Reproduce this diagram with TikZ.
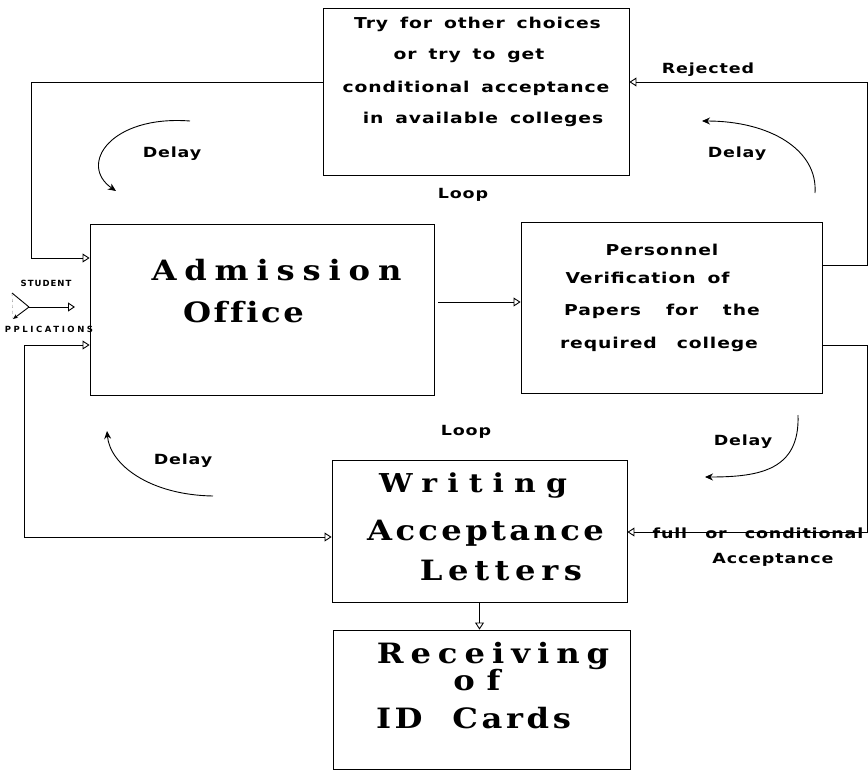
\documentclass[tikz,border=0pt]{standalone}
\usepackage{fontspec}
\usetikzlibrary{arrows.meta}
\newfontfamily\dsans[FakeStretch=1.25,LetterSpace=6,WordSpace=1.6]{DejaVu Sans}
\newfontfamily\dsanstiny{DejaVu Sans}
\newfontfamily\dserif[Ligatures=CommonOff,FakeStretch=1.15]{DejaVu Serif}
\begin{document}
\begin{tikzpicture}[x=1pt,y=-1pt, line width=0.9pt,
  box/.style={draw, rectangle, inner sep=0pt},
  stxt/.style={font=\dsans\bfseries\fontsize{15}{15}\selectfont, anchor=base, inner sep=0pt},
  lbl/.style={font=\dsans\bfseries\fontsize{14}{14}\selectfont, anchor=base, inner sep=0pt},
  bigb/.style={font=\dserif\bfseries\fontsize{28}{28}\selectfont, anchor=base, inner sep=0pt},
  tiny/.style={font=\dsanstiny\bfseries\fontsize{8.5}{8.5}\selectfont, anchor=base, inner sep=0pt},
  oarr/.style={-{Triangle[open,length=7pt,width=9pt]}},
  darr/.style={-{Stealth[length=8pt,width=7pt]}},
]
\useasboundingbox (0,0) rectangle (868,771);

% boxes
\node[box, minimum width=306pt, minimum height=167pt] (top) at (476,91.5) {};
\node[box, minimum width=344pt, minimum height=171pt] (adm) at (262,309.5) {};
\node[box, minimum width=301pt, minimum height=171pt] (per) at (671.5,307.5) {};
\node[box, minimum width=295pt, minimum height=142pt] (wri) at (479.5,531) {};
\node[box, minimum width=297pt, minimum height=139pt] (rec) at (481.5,699.5) {};

% top box text
\node[stxt] (t1) at (477.5,28) {Try for other choices};
\node[stxt] (t2) at (469,59) {or try to get};
\node[stxt] (t3) at (476,92) {conditional acceptance};
\node[stxt] (t4) at (483,123) {in available colleges};

% personnel text
\node[stxt] (p1) at (662,255) {Personnel};
\node[stxt] (p2) at (647.5,283) {Verification of};
\node[stxt] (p3) at (662,315) {Papers\hspace{13pt} for\hspace{13pt} the};
\node[stxt] (p4) at (659,348) {required\hspace{8pt} college};

% admission text
\node[bigb] (a1) at (276.5,280) {\addfontfeature{LetterSpace=28}Admission};
\node[bigb] (a2) at (243.5,322) {\addfontfeature{LetterSpace=9}Office};

% writing text
\node[bigb, font=\dserif\bfseries\fontsize{26}{26}\selectfont] (w1) at (473,492) {\addfontfeature{LetterSpace=39}Writing};
\node[bigb] (w2) at (485.5,540) {\addfontfeature{LetterSpace=12}Acceptance};
\node[bigb] (w3) at (501,580) {\addfontfeature{LetterSpace=20}Letters};

% receiving text
\node[bigb] (r1) at (493,663) {\addfontfeature{LetterSpace=25}Receiving};
\node[bigb, text height=17pt] (r2) at (477,690) {\addfontfeature{LetterSpace=42}of};
\node[bigb] (r3) at (473.5,728) {\addfontfeature{LetterSpace=13}ID\ \ Cards};

% labels
\node[lbl] (d1) at (172,157) {Delay};
\node[lbl] (d2) at (737,157) {Delay};
\node[lbl] (d3) at (183,464) {Delay};
\node[lbl] (d4) at (743,445) {Delay};
\node[lbl] (lp1) at (463,198) {Loop};
\node[lbl] (lp2) at (466,435) {Loop};
\node[lbl] (rej) at (708,73) {Rejected};
\node[lbl] (fc1) at (758,538) {full\hspace{7pt} or\hspace{7pt} conditional};
\node[lbl] (fc2) at (773,563) {Acceptance};
\node[tiny] (st1) at (46,286) {\addfontfeature{LetterSpace=12}STUDENT};
\node[tiny] (st2) at (49,332) {\addfontfeature{LetterSpace=30}PPLICATIONS};

% connectors
\coordinate (ll1) at (31,82);
\coordinate (ll2) at (31,258);
\draw[oarr] (top.west |- ll1) -- (ll1) -- (ll2) -- (adm.west |- ll2);

\coordinate (rj1) at (867,265);
\coordinate (rj2) at (867,82);
\draw[oarr] (per.east |- rj1) -- (rj1) -- (rj2) -- (top.east |- rj2);

\coordinate (fa1) at (867,345);
\coordinate (fa2) at (867,532);
\draw[oarr] (per.east |- fa1) -- (fa1) -- (fa2) -- (wri.east |- fa2);

\coordinate (bl1) at (24,345);
\coordinate (bl2) at (24,537);
\draw[{Triangle[open,length=7pt,width=9pt]}-{Triangle[open,length=7pt,width=9pt]}]
  (adm.west |- bl1) -- (bl1) -- (bl2) -- (wri.west |- bl2);

\coordinate (ap) at (0,302);
\draw[oarr, shorten <=4pt] (adm.east |- ap) -- (per.west |- ap);

\draw[oarr] (wri.south) -- (wri.south |- rec.north);

% student applications
\coordinate (sf1) at (12,293);
\coordinate (sf) at (29,307);
\coordinate (sf2) at (13,319);
\coordinate (se) at (75,307);
\draw (sf1) -- (sf);
\draw[-{Stealth[length=5pt,width=4pt]}] (sf) -- (sf2);
\draw[oarr] (sf) -- (se);
\draw[dashed, line width=0.4pt, gray] (sf1) -- (sf2);

% delay curves
\coordinate (c1s) at (190,121);
\coordinate (c1e) at (116,191);
\draw[darr] (c1s) .. controls (110,115) and (78,165) .. (c1e);
\coordinate (c2s) at (815,193);
\coordinate (c2e) at (702,121);
\draw[darr] (c2s) .. controls (818,150) and (770,121) .. (c2e);
\coordinate (c3s) at (213,496);
\coordinate (c3e) at (107,431);
\draw[darr] (c3s) .. controls (150,495) and (110,465) .. (c3e);
\coordinate (c4s) at (798,415);
\coordinate (c4e) at (705,477);
\draw[darr] (c4s) .. controls (800,470) and (760,477) .. (c4e);
\end{tikzpicture}
\end{document}
